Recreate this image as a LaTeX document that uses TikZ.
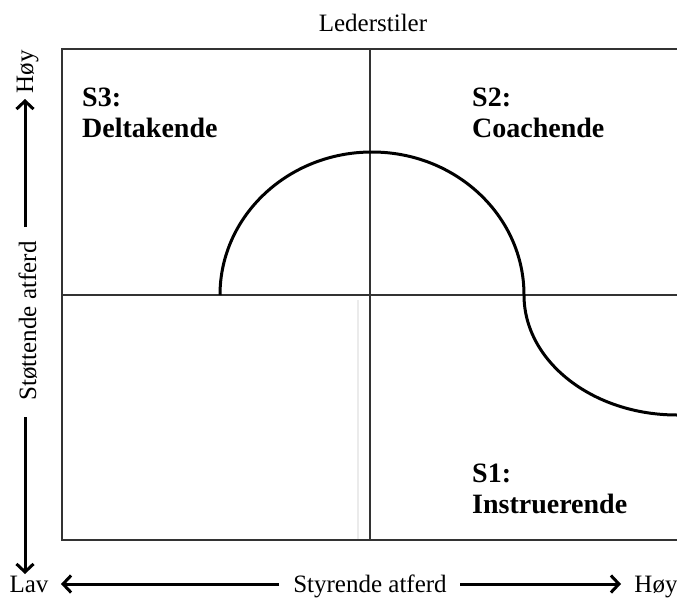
\documentclass[tikz,border=0pt]{standalone}
\usepackage{fontspec}
\setmainfont{Liberation Serif}
\usetikzlibrary{arrows.meta}
\begin{document}
\begin{tikzpicture}[x=1pt,y=-1pt,
  frame/.style={line width=1.4pt,draw=black!80},
  curve/.style={line width=3pt,black},
  axisarrow/.style={line width=3pt,-{Straight Barb[length=8pt,width=17pt,line width=3pt]}},
  plain/.style={font=\fontsize{25}{29}\selectfont,inner sep=0pt},
  quad/.style={font=\fontsize{28}{31}\selectfont\bfseries,inner sep=0pt,anchor=base west}]
\useasboundingbox (0,0) rectangle (677,597);
% frame
\coordinate (tl) at (62,49);
\coordinate (tr) at (677,49);
\coordinate (bl) at (62,540);
\coordinate (br) at (677,540);
\coordinate (vt) at (370,49);
\coordinate (vb) at (370,540);
\coordinate (hl) at (62,295);
\coordinate (hr) at (677,295);
\draw[frame] (tr) -- (tl) -- (bl) -- (br);
\draw[frame] (vt) -- (vb);
\draw[frame] (hl) -- (hr);
\draw[black!8,line width=1.2pt] (358,300) -- (358,539);
% curve
\coordinate (c0) at (220,295);
\draw[curve] (c0) arc[start angle=180,end angle=0,x radius=152,y radius=-143]
  arc[start angle=180,end angle=270,x radius=153,y radius=-120];
% title
\node[plain,anchor=base] (title) at (373,31) {Lederstiler};
% quadrant labels
\node[quad] (s3) at (82,106) {S3:};
\node[quad] (s3b) at (82,137) {Deltakende};
\node[quad] (s2) at (472,106) {S2:};
\node[quad] (s2b) at (472,137) {Coachende};
\node[quad] (s1) at (472,482) {S1:};
\node[quad] (s1b) at (472,513) {Instruerende};
% left axis
\node[plain,rotate=90,anchor=base] (vhigh) at (33,72) {Høy};
\node[plain,rotate=90,anchor=base] (vlab) at (36,321) {Støttende atferd};
\coordinate (va) at (25,227);
\coordinate (vtip) at (25,99);
\coordinate (vb2) at (25,417);
\coordinate (vlow) at (25,574);
\draw[axisarrow] (va) -- (vtip);
\draw[axisarrow] (vb2) -- (vlow);
% bottom axis
\node[plain,anchor=base] (lav) at (29,592) {Lav};
\node[plain,anchor=base] (hlab) at (370,592) {Styrende atferd};
\node[plain,anchor=base] (hhigh) at (656,592) {Høy};
\coordinate (la) at (279,584);
\coordinate (ltip) at (61,584);
\coordinate (ra) at (460,584);
\coordinate (rtip) at (621,584);
\draw[axisarrow] (la) -- (ltip);
\draw[axisarrow] (ra) -- (rtip);
\end{tikzpicture}
\end{document}
